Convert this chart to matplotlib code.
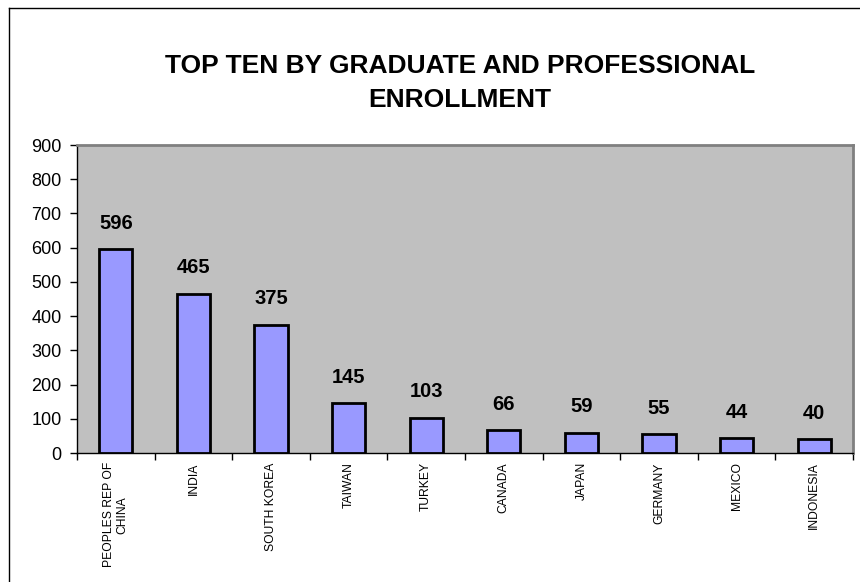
import matplotlib
matplotlib.use("Agg")
import matplotlib.pyplot as plt
import numpy as np
from matplotlib.lines import Line2D

plt.rcParams["font.family"] = ["Liberation Sans", "DejaVu Sans"]

countries = [
    "PEOPLES REP OF\nCHINA", "INDIA", "SOUTH KOREA", "TAIWAN", "TURKEY",
    "CANADA", "JAPAN", "GERMANY", "MEXICO", "INDONESIA",
]
enrollment = [596, 465, 375, 145, 103, 66, 59, 55, 44, 40]
y_ticks = [0, 100, 200, 300, 400, 500, 600, 700, 800, 900]

W, H = 860, 582
fig = plt.figure(figsize=(W / 100, H / 100), dpi=100)
ax = fig.add_axes([77 / W, 1 - 453 / H, 776 / W, 308 / H])

x = np.arange(len(countries))
ax.bar(x, enrollment, width=0.43, color="#9999FF", edgecolor="black", linewidth=2, zorder=3)
for xi, v in zip(x, enrollment):
    ax.text(xi, v + 48, str(v), ha="center", va="bottom", fontsize=14.5, fontweight="bold")

ax.set_facecolor("#C0C0C0")
ax.set_xlim(-0.5, len(countries) - 0.5)
ax.set_ylim(0, 900)
ax.set_yticks(y_ticks)
ax.tick_params(axis="y", labelsize=13, length=5, width=1, direction="out", pad=6)

# ticks between categories, labels centred on bars
ax.set_xticks(np.arange(len(countries) + 1) - 0.5)
ax.set_xticklabels([])
ax.tick_params(axis="x", length=5, width=1, direction="out")
for xi, name in zip(x, countries):
    ax.text(xi, -0.03, name, transform=ax.get_xaxis_transform(), rotation=90,
            ha="center", va="top", multialignment="center", fontsize=8.7)

for side in ("top", "right"):
    ax.spines[side].set_color("#808080")
    ax.spines[side].set_linewidth(2)
ax.spines["left"].set_linewidth(1)
ax.spines["bottom"].set_linewidth(1)

fig.text(460 / W, 1 - 83 / H, "TOP TEN BY GRADUATE AND PROFESSIONAL\nENROLLMENT",
         ha="center", va="center", fontsize=19, fontweight="bold", linespacing=1.55)

# outer chart frame (only left and top edges visible in the crop)
fig.add_artist(Line2D([8.5 / W, 8.5 / W], [0, 1 - 8 / H], color="black", linewidth=1,
                      transform=fig.transFigure))
fig.add_artist(Line2D([8.5 / W, 1], [1 - 8 / H, 1 - 8 / H], color="black", linewidth=1,
                      transform=fig.transFigure))

fig.savefig("out.png", dpi=100)
